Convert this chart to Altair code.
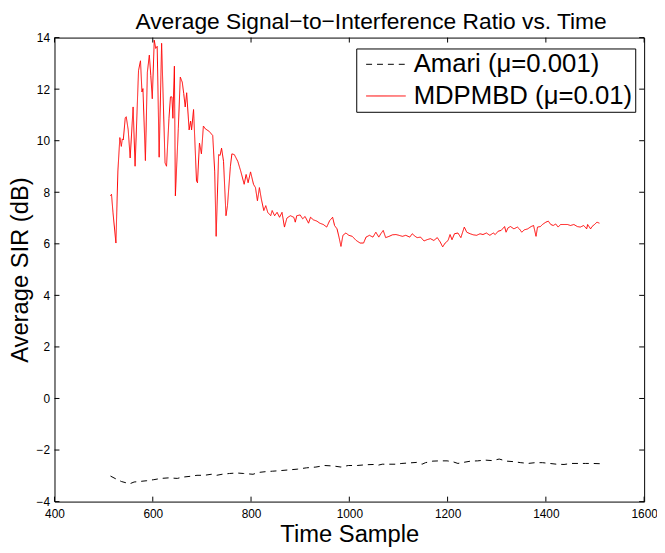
import altair as alt
import pandas as pd

series_names = ["Amari (\u03bc=0.001)", "MDPMBD (\u03bc=0.01)"]

# MDPMBD (red, solid)
mdp_t = [514, 516, 519, 525, 529, 533, 536, 538, 540, 544,
         546, 550, 554, 560, 564, 571, 575, 578, 580, 585,
         589, 593, 596, 599, 603, 606, 609, 613, 618, 625,
         628, 633, 636, 639, 641, 644, 646, 652, 656, 660,
         663, 666, 669, 674, 677, 679, 683, 689, 691, 695,
         699, 703, 707, 715, 722, 726, 729, 734, 737, 740,
         744, 749, 752, 758, 761, 766, 773, 779, 786, 790,
         794, 799, 805, 809, 813, 817, 821, 826, 830, 834,
         840, 843, 848, 853, 858, 863, 868,
         873, 880, 887, 890, 893, 900, 905, 910, 917, 921,
         927, 934, 940, 947, 954, 960, 966, 970, 975, 979,
         983, 987, 993, 999, 1006, 1014, 1022, 1029, 1034, 1041,
         1048, 1054, 1060, 1064, 1069, 1074, 1081, 1088, 1095, 1101,
         1108, 1115, 1123, 1128, 1134, 1138, 1145, 1152, 1158, 1165,
         1172, 1179, 1185, 1190, 1195, 1201, 1205, 1209, 1214, 1221,
         1227, 1234, 1239, 1246, 1252, 1259, 1266, 1272, 1279, 1286,
         1293, 1297, 1303, 1309, 1316, 1319, 1323, 1328, 1335, 1342,
         1346, 1351, 1356, 1363, 1370, 1375, 1380, 1383, 1389, 1393,
         1400, 1405, 1410, 1415, 1420, 1425, 1430, 1437, 1444, 1450,
         1457, 1464, 1470, 1477, 1483, 1485, 1491, 1494, 1499, 1504,
         1509]
mdp_sir = [7.86, 7.92, 7.22, 6.03, 8.82, 10.12, 9.78, 10.07, 10.03, 10.89,
           10.93, 10.42, 9.33, 11.31, 9.01, 12.72, 13.10, 11.89, 12.02, 9.23,
           12.66, 13.32, 12.53, 11.63, 13.90, 13.58, 13.66, 9.36, 13.78, 9.14,
           9.01, 10.87, 11.70, 11.70, 10.87, 12.89, 7.86, 10.48, 12.47, 12.27,
           11.83, 11.31, 11.86, 10.42, 10.76, 10.42, 11.21, 8.44, 8.37, 9.91,
           9.49, 10.57, 10.46, 10.36, 10.20, 8.82, 6.29, 9.46, 9.43, 9.71,
           9.20, 7.09, 7.48, 9.01, 9.49, 9.46, 9.20, 8.82, 8.31, 8.69,
           8.37, 8.79, 8.31, 8.18, 7.67, 8.18, 7.73, 7.29, 7.48, 7.22,
           7.09, 7.29, 7.09, 7.22, 7.03, 7.22, 6.65,
           7.00, 7.09, 7.03, 6.84, 7.09, 7.12, 6.97, 7.06, 6.80, 7.03,
           6.93, 6.88, 6.80, 6.75, 6.65, 6.90, 7.03, 6.71, 6.58, 6.26,
           5.90, 6.33, 6.42, 6.33, 6.29, 6.13, 6.03, 6.03, 6.26, 6.33,
           6.26, 6.45, 6.26, 6.39, 6.52, 6.24, 6.29, 6.35, 6.36, 6.33,
           6.29, 6.33, 6.26, 6.39, 6.29, 6.24, 6.26, 6.11, 6.16, 6.20,
           6.13, 6.24, 6.07, 5.88, 6.03, 6.13, 6.36, 6.16, 6.39, 6.42,
           6.24, 6.65, 6.45, 6.39, 6.35, 6.33, 6.39, 6.36, 6.42, 6.33,
           6.42, 6.36, 6.49, 6.52, 6.67, 6.45, 6.62, 6.67, 6.58, 6.65,
           6.58, 6.45, 6.54, 6.58, 6.67, 6.71, 6.29, 6.65, 6.67, 6.75,
           6.84, 6.88, 6.75, 6.71, 6.77, 6.65, 6.75, 6.75, 6.75, 6.71,
           6.75, 6.67, 6.65, 6.71, 6.58, 6.75, 6.58, 6.67, 6.75, 6.84,
           6.80]

# Amari (black, dashed)
amari_t = [514, 525, 536, 553, 562, 573, 588, 602, 617, 632,
           650, 661, 676, 690, 705, 719, 730, 741, 756, 771,
           785, 804, 815, 829, 844, 859, 877, 895, 913, 932,
           950, 968, 983, 998, 1016, 1034, 1049, 1056, 1067, 1078,
           1093, 1107, 1122, 1137, 1148, 1155, 1170, 1184, 1199, 1210,
           1221, 1232, 1247, 1261, 1276, 1291, 1305, 1320, 1334, 1349,
           1364, 1378, 1393, 1408, 1422, 1437, 1452, 1466, 1481, 1495, 1510]
amari_sir = [-3.01, -3.12, -3.22, -3.31, -3.24, -3.22, -3.19, -3.15, -3.10, -3.08,
             -3.10, -3.05, -3.02, -2.98, -2.98, -2.94, -2.98, -2.94, -2.91, -2.89,
             -2.91, -2.94, -2.87, -2.84, -2.82, -2.80, -2.77, -2.74, -2.69, -2.66,
             -2.60, -2.62, -2.66, -2.60, -2.60, -2.57, -2.56, -2.60, -2.55, -2.55,
             -2.55, -2.52, -2.50, -2.48, -2.55, -2.49, -2.43, -2.42, -2.42, -2.45,
             -2.52, -2.48, -2.43, -2.42, -2.39, -2.41, -2.35, -2.43, -2.45, -2.49,
             -2.52, -2.49, -2.49, -2.52, -2.55, -2.56, -2.52, -2.52, -2.52, -2.52, -2.53]

x_ticks = [400, 600, 800, 1000, 1200, 1400, 1600]
y_ticks = [-4, -2, 0, 2, 4, 6, 8, 10, 12, 14]

df = pd.concat([
    pd.DataFrame({"t": amari_t, "v": amari_sir, "series": series_names[0], "ord": range(len(amari_t))}),
    pd.DataFrame({"t": mdp_t, "v": mdp_sir, "series": series_names[1], "ord": range(len(mdp_t))}),
], ignore_index=True)

W, H = 596, 469
FONT = "Liberation Sans"

x_scale = alt.Scale(domain=[400, 1600], nice=False, zero=False)
y_scale = alt.Scale(domain=[-4, 14], nice=False, zero=False)

x_axis = alt.Axis(values=x_ticks, format="d", title="Time Sample", ticks=False, tickSize=0, domain=False,
                  grid=False, labelFontSize=12, labelPadding=7, titleFontSize=24, titlePadding=3,
                  labelFlush=False, labelOverlap=False)
y_axis = alt.Axis(values=y_ticks, format="d", title="Average SIR (dB)", ticks=False, tickSize=0, domain=False,
                  grid=False, labelFontSize=12, labelPadding=5, titleFontSize=24, titlePadding=4,
                  labelFlush=False, labelOverlap=False)

legend = alt.Legend(title=None, orient="none", legendX=305, legendY=11,
                    symbolType="M-0.6,0H3.4", symbolSize=400, symbolStrokeWidth=1,
                    labelFontSize=26, labelFont=FONT, labelColor="black", labelLimit=400,
                    fillColor="white", strokeColor="black", padding=3, rowPadding=6, labelOffset=29)

lines = alt.Chart(df).mark_line(strokeWidth=1).encode(
    x=alt.X("t:Q", scale=x_scale, axis=x_axis),
    y=alt.Y("v:Q", scale=y_scale, axis=y_axis),
    color=alt.Color("series:N", scale=alt.Scale(domain=series_names, range=["black", "red"]), legend=legend),
    strokeDash=alt.StrokeDash("series:N", scale=alt.Scale(domain=series_names, range=[[6, 5], [1, 0]]),
                              legend=legend),
    order="ord:Q",
)

xt = pd.DataFrame({"t": x_ticks})
yt = pd.DataFrame({"v": y_ticks})

tick_bottom = alt.Chart(xt).mark_rule(color="black", strokeWidth=1).encode(
    x=alt.X("t:Q", scale=x_scale, axis=x_axis), y=alt.value(H), y2=alt.value(H - 5))
tick_top = alt.Chart(xt).mark_rule(color="black", strokeWidth=1).encode(
    x=alt.X("t:Q", scale=x_scale, axis=x_axis), y=alt.value(0), y2=alt.value(5))
tick_left = alt.Chart(yt).mark_rule(color="black", strokeWidth=1).encode(
    y=alt.Y("v:Q", scale=y_scale, axis=y_axis), x=alt.value(0), x2=alt.value(5))
tick_right = alt.Chart(yt).mark_rule(color="black", strokeWidth=1).encode(
    y=alt.Y("v:Q", scale=y_scale, axis=y_axis), x=alt.value(W), x2=alt.value(W - 5))

chart = alt.layer(lines, tick_bottom, tick_top, tick_left, tick_right).properties(
    width=W, height=H,
    title=alt.TitleParams("Average Signal\u2212to\u2212Interference Ratio vs. Time",
                          fontSize=23, font=FONT, fontWeight="normal", color="black",
                          offset=0, dx=22, dy=2),
    autosize=alt.AutoSizeParams(type="none"),
    padding={"left": 47, "top": 27, "right": 13, "bottom": 45},
    background="white",
).configure_view(
    stroke="black", strokeWidth=1
).configure_axis(
    labelFont=FONT, titleFont=FONT, labelColor="black", titleColor="black", titleFontWeight="normal"
)

chart.save("out.html", embed_options={"renderer": "svg", "actions": False})
